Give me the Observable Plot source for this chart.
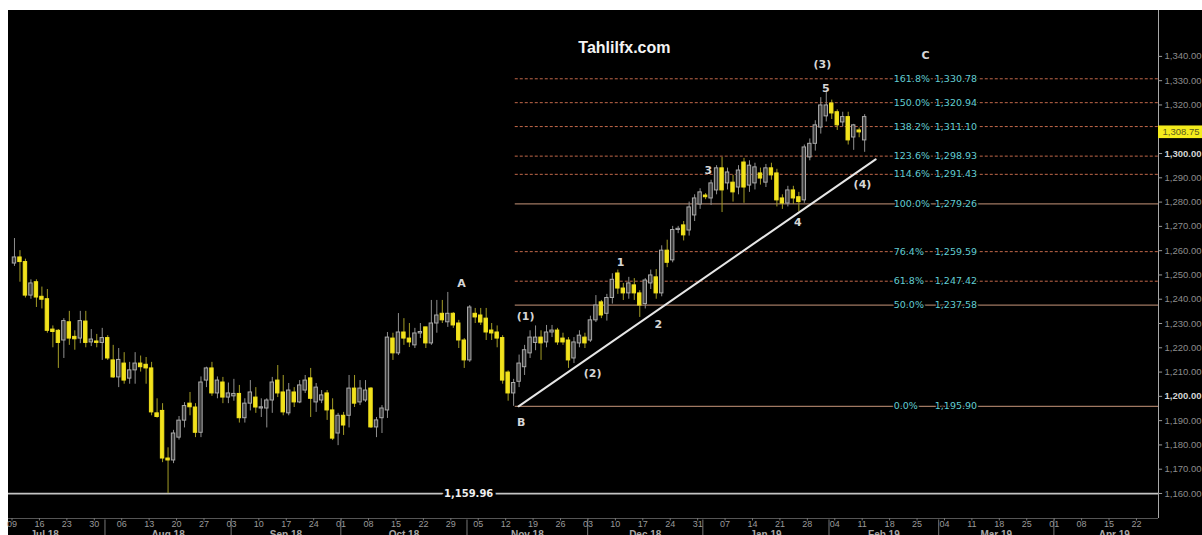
<!DOCTYPE html>
<html><head><meta charset="utf-8">
<script src="https://cdn.jsdelivr.net/npm/d3@7"></script>
<script src="https://cdn.jsdelivr.net/npm/@observablehq/plot@0.6"></script>
<style>
html,body{margin:0;padding:0;background:#fff;overflow:hidden;width:1202px;height:535px;}
#chart{position:absolute;left:8px;top:10px;}
</style></head><body><div id="chart"></div>
<script>
// ---- data (daily gold candles, one per weekday starting 2018-07-09) ----
const firstDay = "2018-07-09";
const opens = [
1254.7,1257.2,1255.3,1241.5,1247, 1241,1240,1227.5,1227,1223, 1230.5,1224.5,1223.8,1230.8,1222.2,
1222.6,1222,1224,1214.8,1207.8, 1213.5,1207.3,1210.7,1213.5,1213, 1211.5,1193,1194,1174.4,1173.6,
1183,1190,1197,1195.4,1185, 1206.5,1211.5,1201.2,1205.7,1199.5, 1200,1201,1191,1197,1199.5,
1195,1195,1198.3,1206.5,1201.6, 1193,1201.6,1197.5,1202.4,1207.4, 1197.5,1198.3,1201.2,1194.2,1184.7,
1192,1192,1203.2,1197.5,1198.3, 1203.2,1187.2,1191,1194.2,1223.8, 1217.7,1226.3,1223.8,1221,1225.9,
1228.4,1221.8,1230,1234,1230.5, 1234,1230,1223,1214.8,1234, 1233.3,1232,1227.1,1226.3,1224,
1209.8,1201.2,1206,1212,1217.7, 1222,1224.2,1222.2,1226.3,1227.1, 1223.8,1223,1215.6,1221.8,1224.2,
1223,1231.3,1238.7,1234,1240.5, 1250.6,1244.4,1242.4,1245.7,1242.4, 1238,1246.5,1249,1242.4,1260,
1256,1268.5,1270.4,1268.3,1274.5, 1279,1282.7,1281.5,1284.8,1293.9, 1287.7,1288,1286,1296.3,1286.8,
1287.7,1291.8,1288,1293.9,1291.8, 1281.5,1279.4,1284.8,1282,1280.7, 1298.4,1304,1310.7,1315.3,1320.6,
1317,1312.8,1315,1306.6,1309.5, 1305.4];
const highs = [
1265,1260,1256.5,1248,1248, 1245,1244,1229,1227.5,1232, 1235,1227,1235,1235,1227.5,
1225.5,1228,1225,1221,1219.7, 1218,1214,1218,1216.6,1216, 1214,1199,1197,1178.8,1186,
1191.7,1197.4,1201.6,1197,1208, 1212,1214,1208,1207.8,1205.5, 1207,1204.5,1199,1206.5,1203.6,
1199,1199,1207.8,1212.7,1208.6, 1205.3,1203.6,1206.5,1208.6,1211.5, 1205.3,1202.4,1202.4,1199,1193,
1193.4,1208.6,1208.6,1206.5,1206.5, 1203.6,1191.3,1196.2,1226.3,1226, 1234.1,1232,1230,1228,1230,
1228.4,1239.5,1239.5,1239.5,1242.8, 1234.5,1231.3,1223.8,1237.4,1236.2, 1236.2,1236.2,1230,1229,1225,
1210.5,1207,1217,1221,1227, 1229,1227,1229.2,1229.2,1228, 1226,1224.2,1224.2,1227,1226,
1233,1241.5,1239.5,1242,1250.5, 1252,1246.5,1249,1248.5,1243.5, 1248.5,1252,1252.2,1262,1264.3,
1270,1270,1272,1280,1283, 1285.5,1283.5,1289,1295,1298.4, 1294,1291,1295,1298,1297,
1296,1294,1295.5,1296,1293.5, 1283,1286.5,1286.5,1284,1303.5, 1306,1313.5,1323,1325.5,1322,
1318,1317,1317,1312,1310.5, 1316];
const lows = [
1253.5,1247,1240.5,1240,1236.6, 1236,1226,1220,1211.5,1215.6, 1221,1219,1221.7,1220,1220.5,
1220,1214.8,1214.8,1207.4,1203.6, 1205,1205,1205,1210,1205, 1192,1191,1172.7,1159.96,1172.3,
1182,1187,1192,1183,1183, 1203.6,1200,1199,1197,1197, 1198,1189,1189,1194,1193,
1191.3,1187,1193,1199.5,1192, 1192,1195.4,1197,1201.2,1191.3, 1193.4,1197,1190.1,1181.8,1179.7,
1183.9,1187,1195.4,1196.2,1197.5, 1186.8,1183,1184.7,1190.9,1214.8, 1216.8,1221,1220.1,1219.7,1223.8,
1219.7,1221,1226,1230,1228.4, 1228,1219.7,1211.5,1214,1230, 1229.2,1223,1223,1220,1205,
1198,1195.9,1203.6,1208.6,1215.6, 1218.8,1214.8,1220,1224.2,1221, 1221,1211.5,1213.5,1220,1219.7,
1222.2,1230.4,1232,1231,1238, 1242,1239.5,1240,1239.5,1232.5, 1236,1244,1240,1241,1253,
1255,1267,1264,1266,1272, 1277,1281,1278.6,1283,1275.7, 1285,1280,1283,1279.5,1284,
1285,1287,1286,1289,1278, 1277,1278,1279,1276,1279.5, 1297,1301,1308,1313,1314,
1309.5,1311,1303.5,1301.3,1306.5, 1300.5];
const closes = [
1257.2,1255.3,1241.5,1246.5,1240.7, 1239.8,1227,1226.5,1222,1231, 1223.8,1223.5,1231,1222,1223.4,
1222,1224,1215.6,1207.8,1215, 1206.5,1210.7,1213.5,1212,1211.5, 1193.4,1191.5,1174.4,1173.6,1184.7,
1190,1196,1195.5,1185,1205.7, 1211.5,1201.2,1206.5,1199.5,1201.2, 1201,1191,1197,1201.6,1195.4,
1195.5,1198.3,1205.7,1201.2,1193.4, 1202.4,1197.5,1204.5,1206.5,1199, 1203.6,1200.4,1194.2,1182.6,1192,
1188,1203.2,1197,1203.2,1202.4, 1187.2,1190.1,1195,1224.2,1217.7, 1226.3,1223.8,1222.2,1225.9,1226.5,
1221.8,1230,1233.3,1231.3,1234, 1229.2,1223,1214.8,1236.6,1232.5, 1230.4,1226.3,1225.9,1223.8,1206.5,
1201.2,1205.5,1213.5,1219,1224.2, 1224.2,1221.8,1226.3,1227.1,1222.2, 1222.2,1214.8,1222.2,1225,1221.8,
1231.3,1237.4,1233.3,1240.5,1248, 1244.4,1242.4,1246.5,1242.4,1237.4, 1247.7,1249.8,1242.4,1260,1255,
1268.5,1269,1266.3,1277.8,1281.5, 1284,1282,1287.7,1293.9,1284.8, 1292.2,1284,1293,1286,1295,
1294.3,1289.7,1293.9,1291,1280.7, 1279.4,1284.8,1281.5,1280,1302.5, 1304,1311.6,1319.8,1319.8,1316.5,
1311.6,1315,1305.4,1311.6,1308.7, 1315];

const fibPct   = ["161.8%","150.0%","138.2%","123.6%","114.6%","100.0%","76.4%","61.8%","50.0%","0.0%"];
const fibPrice = [1330.78,1320.94,1311.10,1298.93,1291.43,1279.26,1259.59,1247.42,1237.58,1195.90];
const lowLevel = 1159.96;
const lastPrice = 1308.75;
const yTicks = [1160,1170,1180,1190,1200,1210,1220,1230,1240,1250,1260,1270,1280,1290,1300,1320,1330,1340];
// wave labels: text, trading-day index, price
const waveText  = ["C","(3)","5","3","1","A","(1)","2","(2)","B","4","(4)"];
const waveIdx   = [166.1,147.3,147.9,126.5,110.5,81.5,93.2,117.4,105.4,92.4,142.8,154.6];
const wavePrice = [1340.4,1336.7,1326.8,1293.0,1255.1,1246.5,1232.9,1229.6,1209.4,1189.2,1271.6,1287.3];
// trend line (B -> projection)
const trendIdx   = [91.9, 157];
const trendPrice = [1195.9, 1297.6];
const fibStartIdx = 91.3;

// ---- trading-day calendar ----
const parse = d3.utcParse("%Y-%m-%d");
const t0 = parse(firstDay);
const calStart = parse("2018-07-02"), calEnd = parse("2019-05-06");
const days = [];
{ let idx = -5; for (let d = calStart; d < calEnd; d = d3.utcDay.offset(d, 1)) {
    const wd = d.getUTCDay(); if (wd === 0 || wd === 6) continue; days.push({date: d, t: idx++}); } }
const mondays = days.filter(d => d.date.getUTCDay() === 1 && d.date >= t0 && d.date <= parse("2019-04-22"))
  .map(d => ({t: d.t, label: d3.utcFormat("%d")(d.date)}));
const monthStarts = [];
for (let m = d3.utcMonth.floor(calStart); m <= parse("2019-04-01"); m = d3.utcMonth.offset(m, 1)) {
  const next = d3.utcMonth.offset(m, 1);
  const a = days.find(d => d.date >= m).t, b = days.find(d => d.date >= next).t;
  monthStarts.push({a, center: (a + b - 1) / 2, label: d3.utcFormat("%b %y")(m)});
}

const candles = opens.map((o, i) => ({t: i, o, h: highs[i], l: lows[i], c: closes[i]}));
const up = candles.filter(d => d.c >= d.o), dn = candles.filter(d => d.c < d.o);
const fib = fibPct.map((p, i) => ({pct: p, price: fibPrice[i]}));
const solidSet = new Set(["100.0%","50.0%","0.0%"]);
const waves = waveText.map((s, i) => ({s, t: waveIdx[i], p: wavePrice[i]}));
const trend = trendIdx.map((t, i) => ({t, p: trendPrice[i]}));

const X0 = -1.09, X1 = 208.57, Y0 = 1149.7, Y1 = 1358.9;
const fmt = d3.format(",.2f");
const FONT = "DejaVu Sans";
const hw = 0.31;

const chart = Plot.plot({
  width: 1194, height: 525,
  marginLeft: 0, marginRight: 44, marginTop: 0, marginBottom: 17,
  x: {type: "linear", domain: [X0, X1], axis: null},
  y: {type: "linear", domain: [Y0, Y1], axis: null},
  style: {background: "#000", color: "#ccc", fontFamily: FONT, overflow: "visible"},
  marks: [
    // frame
    Plot.ruleX([X1], {stroke: "#a8a8a8"}),
    Plot.ruleY([Y0], {stroke: "#555"}),
    Plot.ruleX(mondays, {x: d => d.t - 0.45, y1: Y0, y2: Y0 - 1.0, stroke: "#777"}),
    Plot.ruleX(monthStarts.filter(d => d.a > 0), {x: d => d.a - 0.5, y1: Y0 - 0.6, y2: Y0 - 9, stroke: "#777"}),
    // low level
    Plot.ruleY([lowLevel], {stroke: "#c4c4c4", strokeWidth: 1.6}),
    Plot.text([lowLevel], {x: 82.8, y: d => d, text: d => fmt(d), fill: "#eeeeee", fontWeight: "bold",
      fontSize: 10, stroke: "#000", strokeWidth: 6}),
    // fib levels
    Plot.ruleY(fib.filter(d => !solidSet.has(d.pct)), {y: "price", x1: fibStartIdx, x2: X1,
      stroke: "#c2684a", strokeDasharray: "3,2", strokeWidth: 1}),
    Plot.ruleY(fib.filter(d => solidSet.has(d.pct)), {y: "price", x1: fibStartIdx, x2: X1,
      stroke: "#a07862", strokeWidth: 1.3}),
    Plot.text(fib, {x: 160.3, y: "price", text: "pct", textAnchor: "start", fill: "#62cdd2",
      fontSize: 9.5, stroke: "#000", strokeWidth: 3}),
    Plot.text(fib, {x: 175.5, y: "price", text: d => fmt(d.price), textAnchor: "end", fill: "#62cdd2",
      fontSize: 9.5, stroke: "#000", strokeWidth: 3}),
    // candles
    Plot.ruleX(up, {x: "t", y1: "l", y2: "h", stroke: "#8e8e8e", strokeWidth: 1}),
    Plot.ruleX(dn, {x: "t", y1: "l", y2: "h", stroke: "#a39c26", strokeWidth: 1}),
    Plot.rect(up, {x1: d => d.t - hw, x2: d => d.t + hw, y1: "o", y2: "c",
      fill: "#3e3e3e", stroke: "#aaaaaa", strokeWidth: 1}),
    Plot.rect(dn, {x1: d => d.t - hw, x2: d => d.t + hw, y1: "c", y2: "o",
      fill: "#f2e21c", stroke: "#f2e21c", strokeWidth: 1}),
    // trend line
    Plot.line(trend, {x: "t", y: "p", stroke: "#e6e6e6", strokeWidth: 2}),
    // wave labels
    Plot.text(waves, {x: "t", y: "p", text: "s", fill: "#d6d6d6", fontWeight: "bold", fontSize: 11}),
    // title
    Plot.text(["Tahlilfx.com"], {x: 111.2, frameAnchor: "top", dy: 31, fill: "#f4f4f4",
      fontWeight: "bold", fontSize: 16, fontFamily: "Liberation Sans"}),
    // right axis
    Plot.ruleY(yTicks, {y: d => d, x1: X1, x2: X1 + 0.75, stroke: "#9a9a9a"}),
    Plot.text(yTicks.filter(v => v % 100 !== 0), {x: X1, y: d => d, dx: 6, text: d => fmt(d),
      textAnchor: "start", fill: "#8c8c8c", fontSize: 9.5, fontFamily: "Liberation Sans"}),
    Plot.text(yTicks.filter(v => v % 100 === 0), {x: X1, y: d => d, dx: 6, text: d => fmt(d),
      textAnchor: "start", fill: "#d4d4d4", fontWeight: "bold", fontSize: 9.5, fontFamily: "Liberation Sans"}),
    Plot.rect([lastPrice], {x1: X1, x2: X1 + 9, y1: d => d - 2.6, y2: d => d + 2.6, fill: "#f4ec1c"}),
    Plot.text([lastPrice], {x: X1, y: d => d, dx: 4, text: d => fmt(d), textAnchor: "start",
      fill: "#5a5a20", fontSize: 9.5, fontFamily: "Liberation Sans"}),
    // bottom axis
    Plot.text(mondays, {x: d => d.t - 0.45, frameAnchor: "bottom", dy: 6, lineAnchor: "middle",
      text: "label", fill: "#9a9a9a", fontSize: 9, fontFamily: "Liberation Sans"}),
    Plot.text(monthStarts, {x: "center", frameAnchor: "bottom", dy: 12, lineAnchor: "top",
      text: "label", fill: "#a8a8a8", fontWeight: "bold", fontSize: 10, fontFamily: "Liberation Sans"})
  ]
});
document.getElementById("chart").appendChild(chart);
</script></body></html>
